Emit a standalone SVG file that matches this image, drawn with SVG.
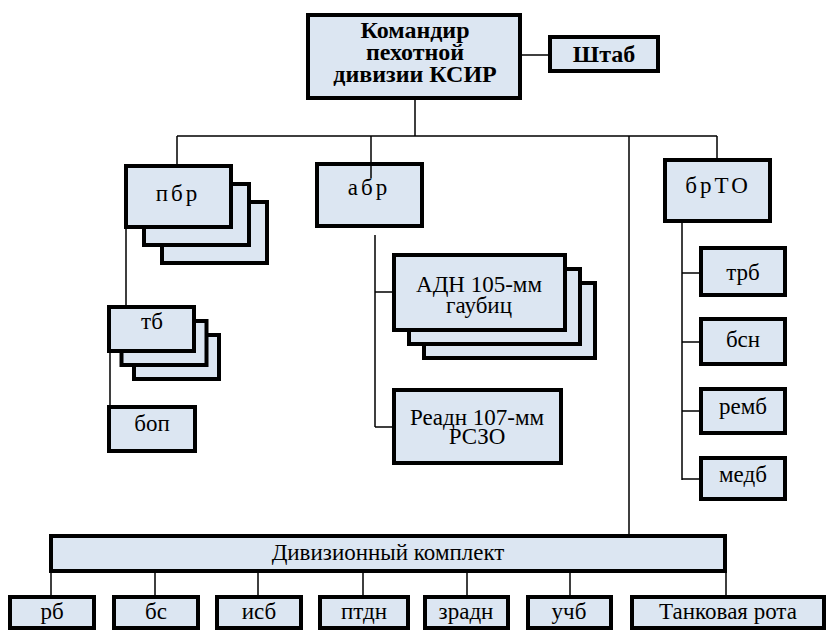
<svg xmlns="http://www.w3.org/2000/svg" width="832" height="635" viewBox="0 0 832 635">
<rect width="832" height="635" fill="#fff"/>
<g id="connectors" fill="none" stroke="#000" stroke-width="1.5">
<path d="M522 55H548M415 100V136M177 136H717M177 136V164M717 136V158M629 136V534"/>
<path d="M126 229V305M110 353V405"/>
<path d="M375 235V427M375 292H392M375 427H392"/>
<path d="M682 223V480M682 273H699M682 342H699M682 411H699M682 479H699"/>
<path d="M51 573V595M155 573V595M258 573V595M363 573V595M467 573V595M570 573V595M726 573V595"/>
</g>
<g id="commander"><rect x="308" y="15" width="212" height="83" fill="#dce6f2" stroke="#000" stroke-width="4"/></g>
<text x="415" y="38" font-family="Liberation Serif" font-size="24" font-weight="bold" text-anchor="middle">Командир</text>
<text x="415" y="60" font-family="Liberation Serif" font-size="24" font-weight="bold" text-anchor="middle">пехотной</text>
<text x="415" y="82" font-family="Liberation Serif" font-size="24" font-weight="bold" text-anchor="middle">дивизии КСИР</text>
<g id="shtab"><rect x="550" y="37" width="108" height="34" fill="#dce6f2" stroke="#000" stroke-width="4"/></g>
<text x="604" y="62" font-family="Liberation Serif" font-size="24" font-weight="bold" text-anchor="middle">Штаб</text>
<g id="pbr"><rect x="162" y="202" width="105" height="61" fill="#dce6f2" stroke="#000" stroke-width="4"/><rect x="144" y="184" width="105" height="61" fill="#dce6f2" stroke="#000" stroke-width="4"/><rect x="126" y="166" width="105" height="61" fill="#dce6f2" stroke="#000" stroke-width="4"/></g>
<text x="178" y="201" font-family="Liberation Serif" font-size="23" text-anchor="middle" letter-spacing="3">пбр</text>
<g id="abr"><rect x="317" y="164" width="105" height="62" fill="#dce6f2" stroke="#000" stroke-width="4"/></g>
<text x="369" y="195" font-family="Liberation Serif" font-size="23" text-anchor="middle" letter-spacing="3">абр</text>
<g id="brto"><rect x="665" y="160" width="105" height="61" fill="#dce6f2" stroke="#000" stroke-width="4"/></g>
<text x="718" y="193" font-family="Liberation Serif" font-size="23" text-anchor="middle" letter-spacing="3">брТО</text>
<g id="adn"><rect x="424" y="283" width="171" height="75" fill="#dce6f2" stroke="#000" stroke-width="4"/><rect x="409" y="269" width="171" height="75" fill="#dce6f2" stroke="#000" stroke-width="4"/><rect x="394" y="255" width="171" height="75" fill="#dce6f2" stroke="#000" stroke-width="4"/></g>
<text x="479" y="292" font-family="Liberation Serif" font-size="23" text-anchor="middle">АДН 105-мм</text>
<text x="479" y="313" font-family="Liberation Serif" font-size="23" text-anchor="middle">гаубиц</text>
<g id="readn"><rect x="394" y="390" width="167" height="73" fill="#dce6f2" stroke="#000" stroke-width="4"/></g>
<text x="477" y="425" font-family="Liberation Serif" font-size="23" text-anchor="middle">Реадн 107-мм</text>
<text x="477" y="444" font-family="Liberation Serif" font-size="23" text-anchor="middle">РСЗО</text>
<g id="tb"><rect x="134" y="335" width="85" height="44" fill="#dce6f2" stroke="#000" stroke-width="4"/><rect x="121.5" y="321" width="85" height="44" fill="#dce6f2" stroke="#000" stroke-width="4"/><rect x="109" y="307" width="85" height="44" fill="#dce6f2" stroke="#000" stroke-width="4"/></g>
<text x="152" y="329" font-family="Liberation Serif" font-size="23" text-anchor="middle">тб</text>
<g id="bop"><rect x="109" y="407" width="86" height="44" fill="#dce6f2" stroke="#000" stroke-width="4"/></g>
<text x="152" y="431" font-family="Liberation Serif" font-size="23" text-anchor="middle">боп</text>
<g id="trb"><rect x="701" y="248" width="84" height="47" fill="#dce6f2" stroke="#000" stroke-width="4"/></g>
<text x="743" y="280" font-family="Liberation Serif" font-size="23" text-anchor="middle">трб</text>
<g id="bsn"><rect x="701" y="319" width="84" height="45" fill="#dce6f2" stroke="#000" stroke-width="4"/></g>
<text x="743" y="347" font-family="Liberation Serif" font-size="23" text-anchor="middle">бсн</text>
<g id="remb"><rect x="701" y="389" width="84" height="44" fill="#dce6f2" stroke="#000" stroke-width="4"/></g>
<text x="743" y="414" font-family="Liberation Serif" font-size="23" text-anchor="middle">ремб</text>
<g id="medb"><rect x="701" y="458" width="84" height="41" fill="#dce6f2" stroke="#000" stroke-width="4"/></g>
<text x="743" y="482" font-family="Liberation Serif" font-size="23" text-anchor="middle">медб</text>
<g id="divkompl"><rect x="51" y="536" width="674" height="35" fill="#dce6f2" stroke="#000" stroke-width="4"/></g>
<text x="388" y="560" font-family="Liberation Serif" font-size="23" text-anchor="middle">Дивизионный комплект</text>
<g id="rb"><rect x="10" y="597" width="84" height="31" fill="#dce6f2" stroke="#000" stroke-width="4"/></g>
<text x="52" y="619" font-family="Liberation Serif" font-size="23" text-anchor="middle">рб</text>
<g id="bs"><rect x="114" y="597" width="84" height="31" fill="#dce6f2" stroke="#000" stroke-width="4"/></g>
<text x="156" y="619" font-family="Liberation Serif" font-size="23" text-anchor="middle">бс</text>
<g id="isb"><rect x="217" y="597" width="84" height="31" fill="#dce6f2" stroke="#000" stroke-width="4"/></g>
<text x="259" y="619" font-family="Liberation Serif" font-size="23" text-anchor="middle">исб</text>
<g id="ptdn"><rect x="320" y="597" width="88" height="31" fill="#dce6f2" stroke="#000" stroke-width="4"/></g>
<text x="364" y="619" font-family="Liberation Serif" font-size="23" text-anchor="middle">птдн</text>
<g id="zradn"><rect x="425" y="597" width="83" height="31" fill="#dce6f2" stroke="#000" stroke-width="4"/></g>
<text x="466" y="619" font-family="Liberation Serif" font-size="23" text-anchor="middle">зрадн</text>
<g id="uchb"><rect x="528" y="597" width="83" height="31" fill="#dce6f2" stroke="#000" stroke-width="4"/></g>
<text x="569" y="619" font-family="Liberation Serif" font-size="23" text-anchor="middle">учб</text>
<g id="tank"><rect x="632" y="597" width="192" height="31" fill="#dce6f2" stroke="#000" stroke-width="4"/></g>
<text x="728" y="619" font-family="Liberation Serif" font-size="23" text-anchor="middle">Танковая рота</text>
<g id="connector-abr"><path d="M371 136V178" fill="none" stroke="#000" stroke-width="1.5"/></g>
</svg>
